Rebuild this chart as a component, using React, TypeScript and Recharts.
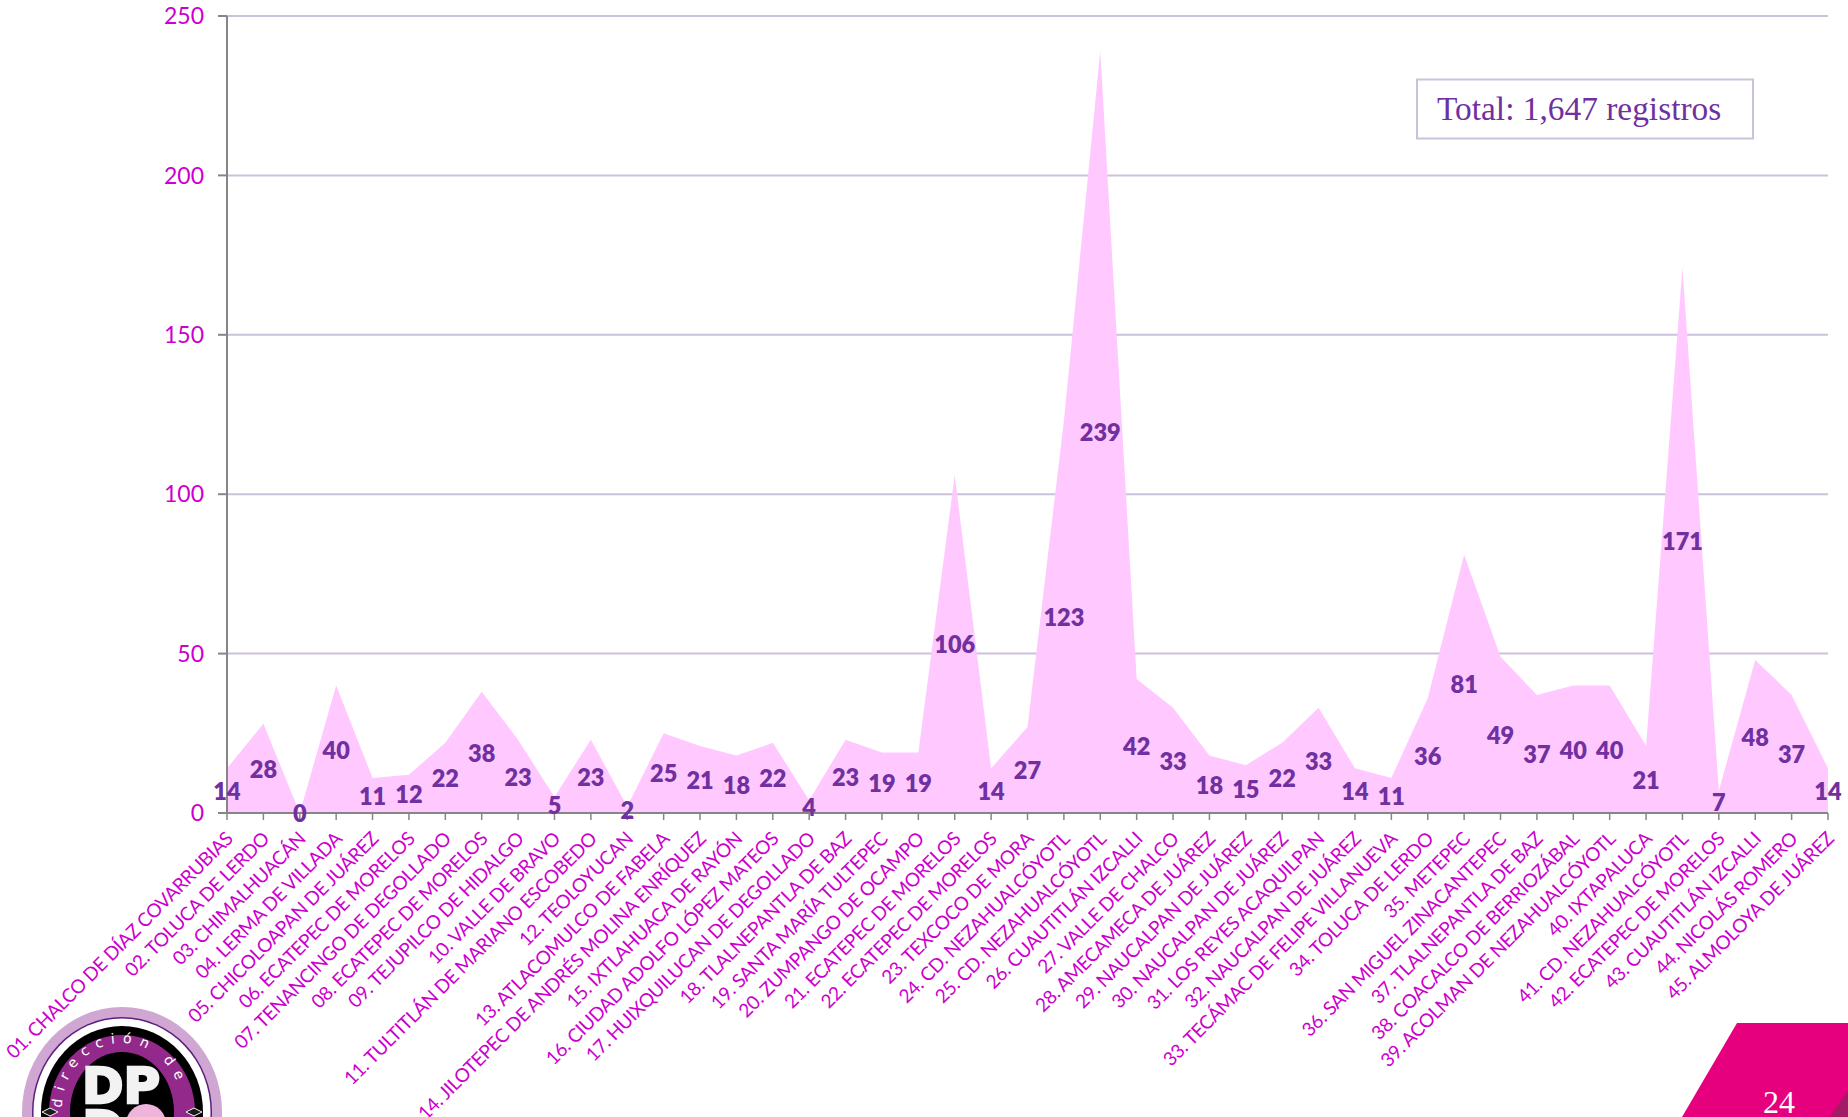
import React from "react";
import { ComposedChart, Area, Line, XAxis, YAxis, CartesianGrid, LabelList } from "recharts";

const categories = [
  "01. CHALCO DE DÍAZ COVARRUBIAS", "02. TOLUCA DE LERDO", "03. CHIMALHUACÁN", "04. LERMA DE VILLADA",
  "05. CHICOLOAPAN DE JUÁREZ", "06. ECATEPEC DE MORELOS", "07. TENANCINGO DE DEGOLLADO", "08. ECATEPEC DE MORELOS",
  "09. TEJUPILCO DE HIDALGO", "10. VALLE DE BRAVO", "11. TULTITLÁN DE MARIANO ESCOBEDO", "12. TEOLOYUCAN",
  "13. ATLACOMULCO DE FABELA", "14. JILOTEPEC DE ANDRÉS MOLINA ENRÍQUEZ", "15. IXTLAHUACA DE RAYÓN",
  "16. CIUDAD ADOLFO LÓPEZ MATEOS", "17. HUIXQUILUCAN DE DEGOLLADO", "18. TLALNEPANTLA DE BAZ", "19. SANTA MARÍA TULTEPEC",
  "20. ZUMPANGO DE OCAMPO", "21. ECATEPEC DE MORELOS", "22. ECATEPEC DE MORELOS", "23. TEXCOCO DE MORA",
  "24. CD. NEZAHUALCÓYOTL", "25. CD. NEZAHUALCÓYOTL", "26. CUAUTITLÁN IZCALLI", "27. VALLE DE CHALCO",
  "28. AMECAMECA DE JUÁREZ", "29. NAUCALPAN DE JUÁREZ", "30. NAUCALPAN DE JUÁREZ", "31. LOS REYES ACAQUILPAN",
  "32. NAUCALPAN DE JUÁREZ", "33. TECÁMAC DE FELIPE VILLANUEVA", "34. TOLUCA DE LERDO", "35. METEPEC",
  "36. SAN MIGUEL ZINACANTEPEC", "37. TLALNEPANTLA DE BAZ", "38. COACALCO DE BERRIOZÁBAL", "39. ACOLMAN DE NEZAHUALCÓYOTL",
  "40. IXTAPALUCA", "41. CD. NEZAHUALCÓYOTL", "42. ECATEPEC DE MORELOS", "43. CUAUTITLÁN IZCALLI", "44. NICOLÁS ROMERO",
  "45. ALMOLOYA DE JUÁREZ",
];
const counts = [
  14, 28, 0, 40, 11, 12, 22, 38, 23, 5, 23, 2, 25, 21, 18, 22, 4, 23, 19, 19, 106, 14, 27, 123, 239, 42, 33, 18, 15, 22,
  33, 14, 11, 36, 81, 49, 37, 40, 40, 21, 171, 7, 48, 37, 14,
];
const yTicks = [0, 50, 100, 150, 200, 250];
const totalText = "Total: 1,647 registros";
const pageNumber = "24";

const rows = categories.map((name, i) => ({ name, count: counts[i] }));

const SANS = "Lato, Carlito, sans-serif";
const SERIF = "'Liberation Serif', serif";
const MAGENTA = "#CC00CC";
const PURPLE = "#7030A0";
const LILAC = "#CCC1DA";
const GREY = "#868686";

function XTick({ x, y, payload }: any) {
  return (
    <text
      x={x + 7}
      y={y + 18}
      transform={`rotate(-45 ${x + 7} ${y + 18})`}
      textAnchor="end"
      fill={MAGENTA}
      fontFamily={SANS}
      fontSize={19}
      letterSpacing={-0.4}
    >
      {payload.value}
    </text>
  );
}

function Logo() {
  return (
    <g>
      <defs>
        <path id="logoArc" d="M 62 1108 A 60 65 0 0 1 182 1108" />
      </defs>
      <ellipse cx={122} cy={1112} rx={100} ry={105} fill="#D0A6D2" />
      <ellipse cx={122} cy={1112} rx={90} ry={95} fill="#5B1F7E" />
      <ellipse cx={122} cy={1112} rx={88.5} ry={93.5} fill="#FFFFFF" />
      <ellipse cx={122} cy={1112} rx={81} ry={86} fill="#000000" />
      <ellipse cx={122} cy={1112} rx={73} ry={77} fill="#93298A" />
      <ellipse cx={122} cy={1112} rx={52} ry={60} fill="#000000" />
      <text fontFamily="'DejaVu Sans', sans-serif" fontSize={14} fill="#FFFFFF" letterSpacing={7.5}>
        <textPath href="#logoArc">dirección de</textPath>
      </text>
      <text
        x={121}
        y={1103}
        textAnchor="middle"
        fontFamily="'DejaVu Sans', sans-serif"
        fontWeight={900}
        fontSize={50}
        stroke="#F2F2F2"
        strokeWidth={2.5}
        fill="#F2F2F2"
      >
        DP
      </text>
      <text
        x={103}
        y={1146}
        textAnchor="middle"
        fontFamily="'DejaVu Sans', sans-serif"
        fontWeight={900}
        fontSize={50}
        stroke="#F2F2F2"
        strokeWidth={2.5}
        fill="#F2F2F2"
      >
        D
      </text>
      <circle cx={146} cy={1124} r={20} fill="#EFB4DC" />
      <polygon points="42,1112 50,1108 58,1112 50,1116" fill="#1A1A1A" stroke="#F2F2F2" strokeWidth={1} />
      <polygon points="186,1112 194,1108 202,1112 194,1116" fill="#1A1A1A" stroke="#F2F2F2" strokeWidth={1} />
    </g>
  );
}

function Overlay() {
  return (
    <svg
      width={1848}
      height={1117}
      style={{ position: "absolute", left: 0, top: 0, pointerEvents: "none" }}
    >
      <rect x={1417} y={79.5} width={336} height={59} fill="#FFFFFF" stroke={LILAC} strokeWidth={2} />
      <text x={1437} y={120} fill={PURPLE} fontFamily={SERIF} fontSize={33.4}>
        {totalText}
      </text>
      <polygon points="1737,1023 1848,1023 1848,1117 1682,1117" fill="#E6007E" />
      <polygon points="1830,1117 1848,1090 1848,1117" fill="#A31B64" />
      <text x={1779} y={1113} textAnchor="middle" fill="#FFFFFF" fontFamily={SERIF} fontSize={32}>
        {pageNumber}
      </text>
      <Logo />
    </svg>
  );
}

export default function App() {
  return (
    <div
      style={{
        position: "fixed",
        left: 0,
        top: 0,
        width: 1848,
        height: 1117,
        overflow: "hidden",
        background: "#FFFFFF",
      }}
    >
      <ComposedChart
        width={1848}
        height={1117}
        data={rows}
        margin={{ top: 16, right: 20, bottom: 0, left: 0 }}
      >
        <CartesianGrid vertical={false} stroke={LILAC} strokeWidth={2} />
        <XAxis
          dataKey="name"
          scale="point"
          padding={{ left: 0, right: 0 }}
          interval={0}
          height={304}
          tick={<XTick />}
          tickSize={7}
          stroke={GREY}
          strokeWidth={2}
          tickLine={{ stroke: GREY, strokeWidth: 1.5 }}
        />
        <YAxis
          width={227}
          domain={[0, 250]}
          ticks={yTicks}
          interval={0}
          tickSize={9}
          stroke={GREY}
          strokeWidth={2}
          tickMargin={14}
          tick={{ fill: MAGENTA, fontFamily: SANS, fontSize: 23 }}
        />
        <Area dataKey="count" stroke="none" fill="#FFC9FF" fillOpacity={1} isAnimationActive={false} />
        <Line
          dataKey={(d: any) => d.count / 2}
          stroke="none"
          dot={false}
          activeDot={false}
          legendType="none"
          isAnimationActive={false}
        >
          <LabelList
            dataKey="count"
            position="center"
            fill={PURPLE}
            fontFamily={SANS}
            fontWeight={800}
            fontSize={23.5}
            dy={1}
          />
        </Line>
      </ComposedChart>
      <Overlay />
    </div>
  );
}
